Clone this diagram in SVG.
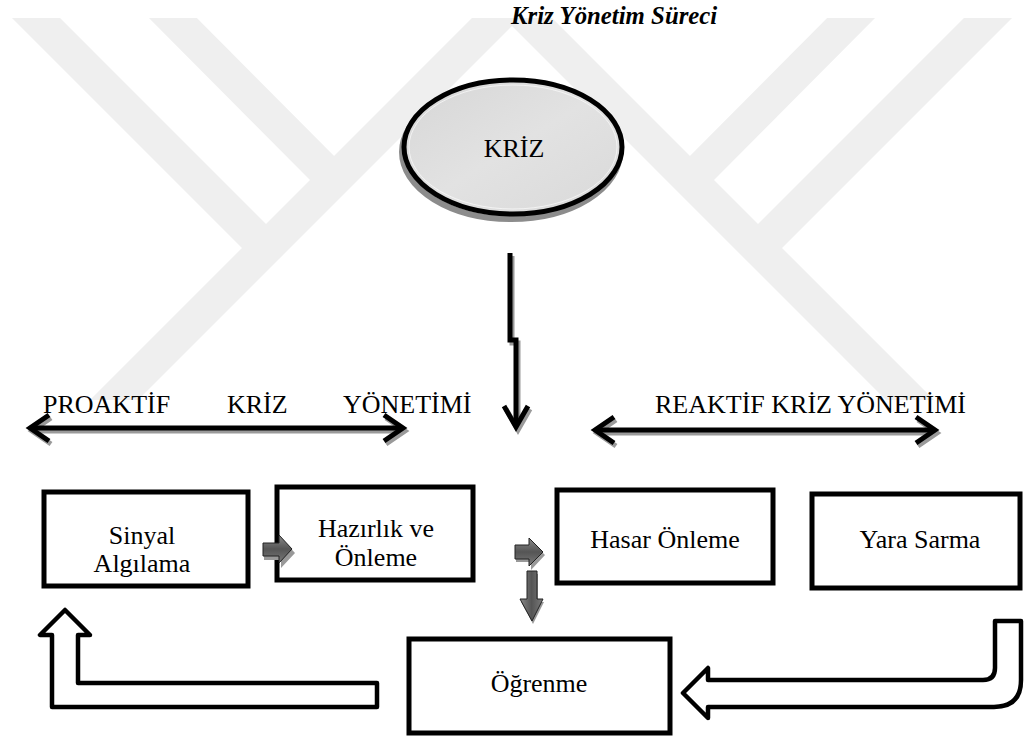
<svg xmlns="http://www.w3.org/2000/svg" width="1024" height="738" viewBox="0 0 1024 738">
<style>
text{font-family:'Liberation Serif','Times New Roman',serif;font-size:26px;fill:#000}
text.title{font-size:24.8px;font-style:italic;font-weight:bold}
.box{fill:#fff;stroke:#000;stroke-width:5}
.wm{fill:none;stroke:#efefef;stroke-width:34;stroke-linejoin:miter}
.ln{fill:none;stroke:#000;stroke-width:5;stroke-linejoin:miter}
.sh{fill:none;stroke:#9a9a9a;stroke-width:5}
.ga{fill:url(#gg);stroke:#222;stroke-width:1}
.big{fill:#fff;stroke:#000;stroke-width:4.5;stroke-linejoin:round}
</style>
<defs>
<linearGradient id="eg" x1="0" y1="0" x2="1" y2="1">
<stop offset="0" stop-color="#d6d6d6"/><stop offset="0.5" stop-color="#e2e2e2"/><stop offset="1" stop-color="#d9d9d9"/>
</linearGradient>
<linearGradient id="gg" x1="0" y1="0" x2="0" y2="1">
<stop offset="0" stop-color="#8a8a8a"/><stop offset="0.5" stop-color="#555"/><stop offset="1" stop-color="#7a7a7a"/>
</linearGradient>
<linearGradient id="ggv" x1="0" y1="0" x2="1" y2="0">
<stop offset="0" stop-color="#8a8a8a"/><stop offset="0.5" stop-color="#555"/><stop offset="1" stop-color="#7a7a7a"/>
</linearGradient>
<clipPath id="wc"><rect x="0" y="18" width="1024" height="382"/></clipPath>
</defs>
<rect width="1024" height="738" fill="#fff"/>
<g id="watermark" clip-path="url(#wc)">
<polyline class="wm" points="18,0 266,248"/>
<polyline class="wm" points="155,0 334,180"/>
<polyline class="wm" points="514,0 100,414"/>
<polyline class="wm" points="1006,0 758,248"/>
<polyline class="wm" points="869,0 690,180"/>
<polyline class="wm" points="510,0 924,414"/>
</g>
<text class="title" x="511" y="24">Kriz Yönetim Süreci</text>
<g id="kriz">
<ellipse cx="511" cy="152" rx="109" ry="67" fill="none" stroke="#8c8c8c" stroke-width="6"/>
<ellipse cx="513" cy="147" rx="109" ry="67" fill="url(#eg)" stroke="#000" stroke-width="5"/>
<ellipse cx="513" cy="147" rx="104" ry="62" fill="none" stroke="#fff" stroke-width="0.8" opacity="0.8"/>
<text x="514" y="157" text-anchor="middle">KRİZ</text>
</g>
<g id="labels">
<text x="43" y="413">PROAKTİF</text>
<text x="227" y="413">KRİZ</text>
<text x="343" y="413">YÖNETİMİ</text>
<text x="655" y="413">REAKTİF KRİZ YÖNETİMİ</text>
</g>
<g id="sinyal">
<rect class="box" x="44" y="492" width="204" height="94"/>
<text x="142" y="544" text-anchor="middle">Sinyal</text>
<text x="142" y="572" text-anchor="middle">Algılama</text>
</g>
<g id="hazirlik">
<rect class="box" x="277" y="487" width="196" height="93"/>
<text x="376" y="537" text-anchor="middle">Hazırlık ve</text>
<text x="376" y="566" text-anchor="middle">Önleme</text>
</g>
<g id="hasar">
<rect class="box" x="557" y="490" width="216" height="93"/>
<text x="665" y="548" text-anchor="middle">Hasar Önleme</text>
</g>
<g id="yara">
<rect class="box" x="812" y="494" width="208" height="94"/>
<text x="920" y="548" text-anchor="middle">Yara Sarma</text>
</g>
<g id="ogrenme">
<rect class="box" x="409" y="639" width="261" height="94"/>
<text x="539" y="692" text-anchor="middle">Öğrenme</text>
</g>
<g id="connectors">
<g transform="translate(2,3)">
<polyline class="sh" points="30,428 403,428"/>
<polyline class="sh" points="49,415 30,428 49,441"/>
<polyline class="sh" points="384,415 403,428 384,441"/>
<polyline class="sh" points="595,430 935,430"/>
<polyline class="sh" points="614,417 595,430 614,443"/>
<polyline class="sh" points="916,417 935,430 916,443"/>
<polyline class="sh" points="510,253 510,340 516,340 516,426"/>
<polyline class="sh" points="504,406 516,427 528,406"/>
</g>
<polyline class="ln" points="30,428 403,428"/>
<polyline class="ln" points="49,415 30,428 49,441"/>
<polyline class="ln" points="384,415 403,428 384,441"/>
<polyline class="ln" points="595,430 935,430"/>
<polyline class="ln" points="614,417 595,430 614,443"/>
<polyline class="ln" points="916,417 935,430 916,443"/>
<polyline class="ln" points="510,253 510,340 516,340 516,426"/>
<polyline class="ln" points="504,406 516,427 528,406"/>
<path d="M263,544 H280 V536 L294,551 L280,566 V558 H263 Z" fill="#999" transform="translate(1,2)"/>
<path class="ga" d="M263,543 H279 V535 L292,549 L279,563 V556 H263 Z"/>
<path d="M515,546 H530 V539 L544,553 L530,568 V560 H515 Z" fill="#999" transform="translate(1,2)"/>
<path class="ga" d="M515,545 H529 V538 L543,552 L529,566 V559 H515 Z"/>
<path d="M527,572 H537 V600 H543 L532,622 L520,600 H527 Z" fill="#999" transform="translate(1,2)"/>
<path d="M527,571 H537 V599 H543 L532,621 L520,599 H527 Z" fill="url(#ggv)" stroke="#222" stroke-width="1"/>
<path class="big" d="M377,683 H78 V635 H90 L65,610 L40,635 H52 V707 H377 Z"/>
<path class="big" d="M995,621 H1021 V680 Q1021,707 994,707 H708 V718 L683,693 L708,668 V680 H983 Q995,680 995,668 Z"/>
</g>
</svg>
